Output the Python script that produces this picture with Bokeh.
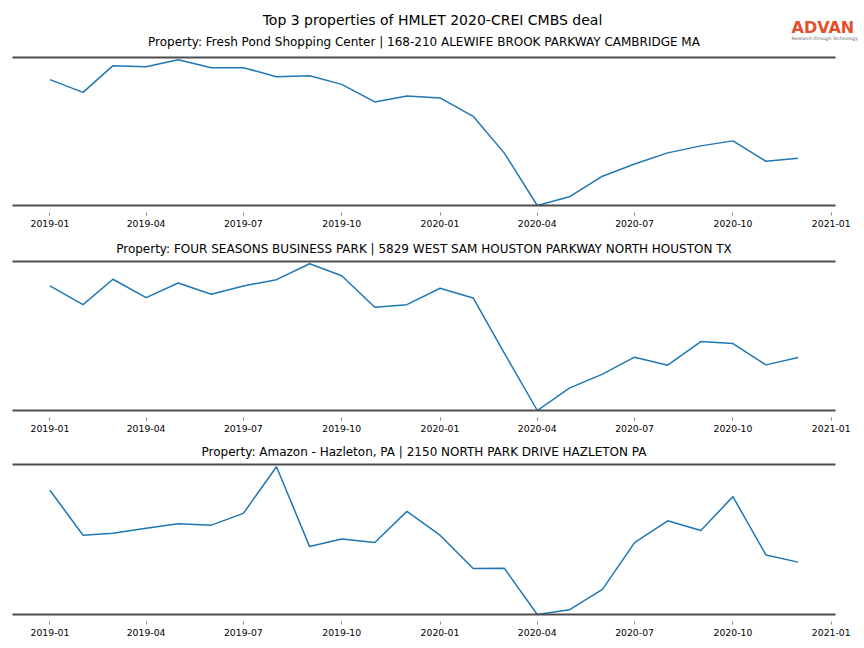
from bokeh.plotting import figure
from bokeh.layouts import column
from bokeh.models import (Range1d, LinearAxis, FixedTicker, DatetimeTickFormatter,
                          Title, ColumnDataSource)
from bokeh.core.properties import value
from bokeh.embed import file_html
from bokeh.resources import INLINE
import pandas as pd

# ---------------- data ----------------
months = ["2019-01", "2019-02", "2019-03", "2019-04", "2019-05", "2019-06",
          "2019-07", "2019-08", "2019-09", "2019-10", "2019-11", "2019-12",
          "2020-01", "2020-02", "2020-03", "2020-04", "2020-05", "2020-06",
          "2020-07", "2020-08", "2020-09", "2020-10", "2020-11", "2020-12"]

fresh_pond = [126, 113.3, 140, 139, 146, 138, 138, 129, 130, 121.3, 103.7, 109.7,
              107.7, 89.3, 52.7, 0, 8.7, 29.3, 41.5, 52.7, 59.7, 64.7, 44.3, 47.3]

four_seasons = [124.7, 106, 131.4, 113, 127.7, 116.4, 124.7, 131, 147, 135, 103.4, 106,
                122.4, 112.7, 57.7, 0, 22.4, 36.4, 53.4, 45.4, 69, 67, 45.7, 53]

amazon_hazleton = [123.4, 78.7, 80.7, 85.7, 90, 88.7, 100.4, 146.7, 67.4, 75, 71.4, 102.4,
                   78.7, 45.7, 46, 0, 4.7, 25, 71.4, 93, 83.4, 117, 59, 52]

tick_labels = ["2019-01", "2019-04", "2019-07", "2019-10", "2020-01",
               "2020-04", "2020-07", "2020-10", "2021-01"]

suptitle = "Top 3 properties of HMLET 2020-CREI CMBS deal"
panel_titles = [
    "Property: Fresh Pond Shopping Center | 168-210 ALEWIFE BROOK PARKWAY CAMBRIDGE MA",
    "Property: FOUR SEASONS BUSINESS PARK | 5829 WEST SAM HOUSTON PARKWAY NORTH HOUSTON TX",
    "Property: Amazon - Hazleton, PA | 2150 NORTH PARK DRIVE HAZLETON PA",
]
logo_text = "ADVAN"
logo_sub = "Research through Technology"

# ---------------- layout helpers ----------------
FONT_NAME = "DejaVu Sans"
FONT = value(FONT_NAME)
W = 864
BL, BR = 12, 29          # left / right borders -> frame spans x 12..835
dates = pd.to_datetime(months)
span = dates[-1] - dates[0]
x_start = (dates[0] - 0.05 * span).to_pydatetime()
x_end = (dates[-1] + 0.05 * span).to_pydatetime()
tick_ms = [pd.Timestamp(t).value // 10**6 for t in tick_labels]
fmt = "%Y-%m"


def panel(vals, height, top, bottom, title=None):
    lo, hi = min(vals), max(vals)
    p = figure(width=W, height=height, x_axis_type="datetime",
               x_range=Range1d(x_start, x_end),
               y_range=Range1d(lo, hi + 0.015 * (hi - lo)),
               output_backend="svg", toolbar_location=None,
               y_axis_location=None,
               min_border_left=BL, min_border_right=BR,
               min_border_top=top, min_border_bottom=bottom)
    p.outline_line_color = None
    p.grid.visible = False
    p.background_fill_color = "white"
    p.border_fill_color = "white"

    ax = p.xaxis[0]
    ax.ticker = FixedTicker(ticks=tick_ms)
    ax.formatter = DatetimeTickFormatter(
        microseconds=fmt, milliseconds=fmt, seconds=fmt, minsec=fmt,
        minutes=fmt, hourmin=fmt, hours=fmt, days=fmt, months=fmt, years=fmt)
    ax.axis_line_color = "#4d4d4d"
    ax.axis_line_width = 2
    ax.major_tick_line_color = "#888888"
    ax.major_tick_line_width = 1
    ax.major_tick_in = -7
    ax.major_tick_out = 10
    ax.minor_tick_line_color = None
    ax.major_label_standoff = 4
    ax.major_label_text_font = FONT_NAME
    ax.major_label_text_font_size = "9.3px"
    ax.major_label_text_color = "black"

    top_ax = LinearAxis(ticker=FixedTicker(ticks=[]),
                        axis_line_color="#4d4d4d", axis_line_width=2,
                        major_tick_line_color=None, minor_tick_line_color=None,
                        major_tick_in=0, major_tick_out=0,
                        minor_tick_in=0, minor_tick_out=0,
                        major_label_standoff=0)
    p.add_layout(top_ax, "above")

    if title is not None:
        p.add_layout(Title(text=title, align="center", text_font=FONT_NAME,
                           text_font_size="12px", text_font_style="normal",
                           text_color="black", standoff=11), "above")

    src = ColumnDataSource(dict(date=dates, v=vals))
    p.line(x="date", y="v", source=src, line_color="#1f77b4", line_width=1.5)
    return p


# header: suptitle, logo, and first panel title (coordinates in page pixels)
HH = 52
h = figure(width=W, height=HH, x_range=Range1d(0, W), y_range=Range1d(HH, 0),
           output_backend="svg", toolbar_location=None, min_border=0,
           min_border_left=0, min_border_right=0, min_border_top=0, min_border_bottom=0,
           x_axis_location=None, y_axis_location=None)
h.outline_line_color = None
h.grid.visible = False
h.text(x=[W / 2], y=[19.8], text=[suptitle], text_font=FONT, text_font_size="14px",
       text_align="center", text_baseline="alphabetic", text_color="black")
h.text(x=[(BL + W - BR) / 2], y=[41.5], text=[panel_titles[0]], text_font=FONT,
       text_font_size="12px", text_align="center", text_baseline="alphabetic",
       text_color="black")
h.text(x=[791], y=[27], text=[logo_text], text_font=FONT, text_font_size="16px",
       text_font_style="bold", text_align="left", text_baseline="alphabetic",
       text_color="#E2502C")
h.text(x=[791], y=[37.8], text=[logo_sub], text_font=FONT, text_font_size="4.5px",
       text_align="left", text_baseline="alphabetic", text_color="#666666")

p1 = panel(fresh_pond, 179, 5, 26)
p2 = panel(four_seasons, 205, 30, 26, panel_titles[1])
p3 = panel(amazon_hazleton, 212, 28, 34, panel_titles[2])

layout = column(h, column(p1, p2, p3))
open("out.html", "w").write(file_html(layout, INLINE))
